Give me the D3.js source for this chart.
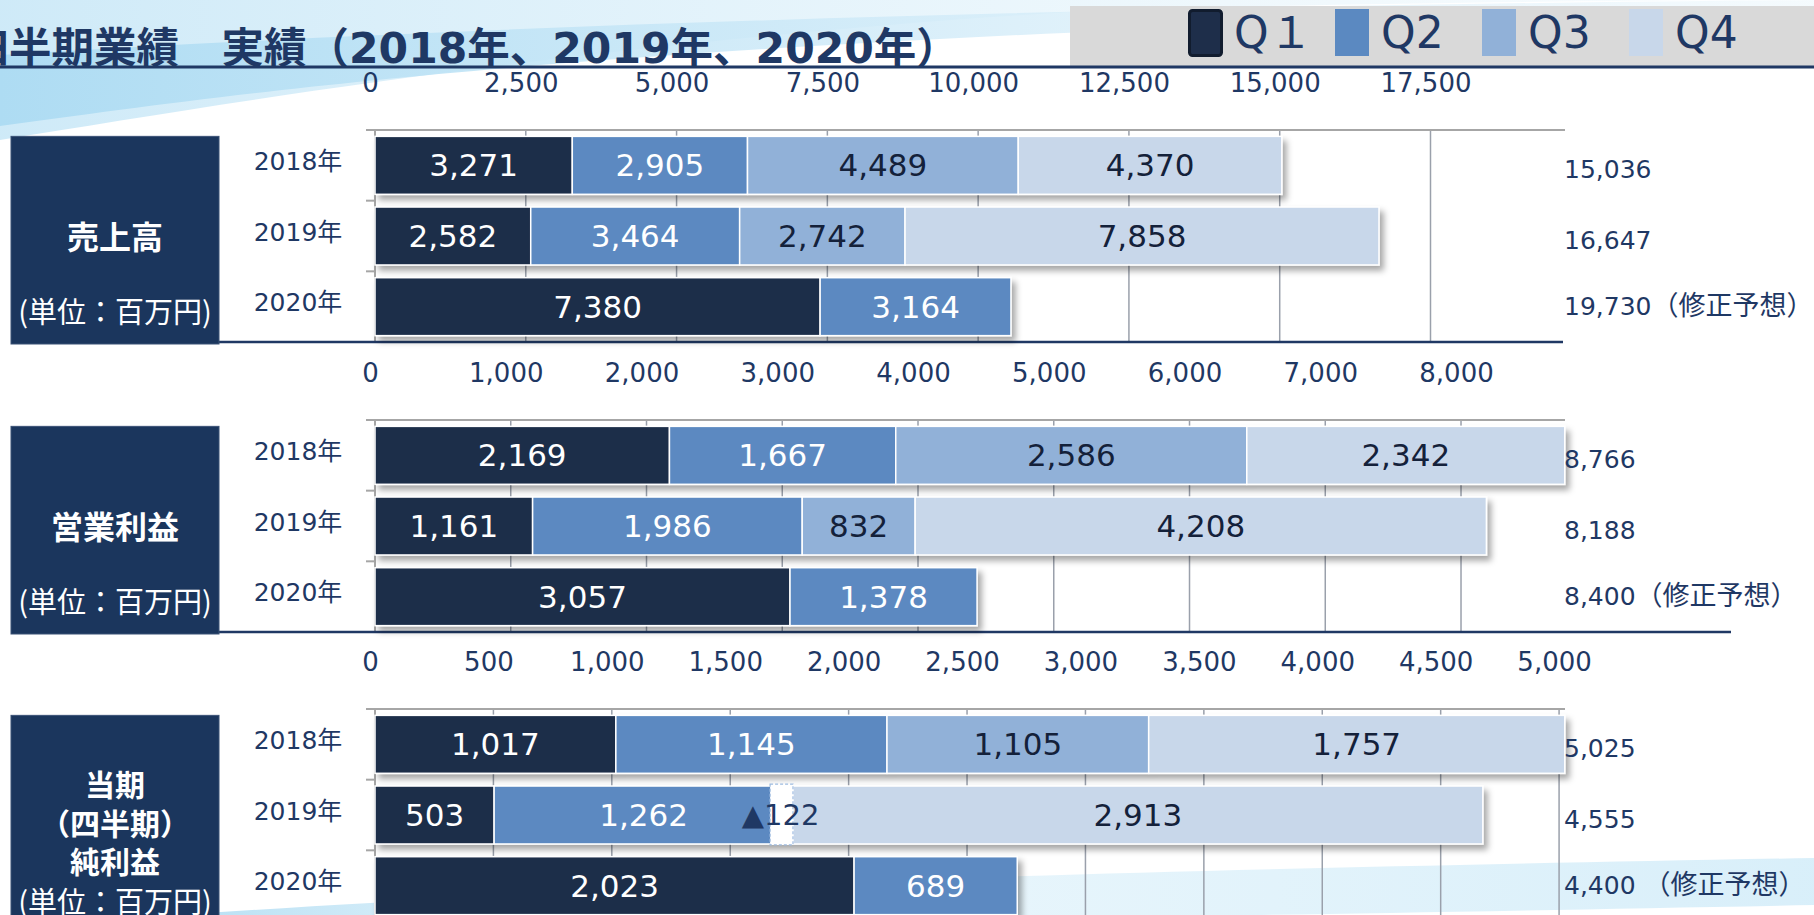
<!DOCTYPE html>
<html>
<head>
<meta charset="utf-8">
<script src="https://cdn.jsdelivr.net/npm/d3@7/dist/d3.min.js"></script>
<style>
body { margin: 0; background: #fff; overflow: hidden; }
svg { display: block; font-family: "DejaVu Sans", "Noto Sans CJK JP", sans-serif; }
</style>
</head>
<body>
<div id="chart"></div>
<script>
var width = 1814;
var height = 915;

// categories
var years = ["2018年", "2019年", "2020年"];
var quarters = ["Q１", "Q2", "Q3", "Q4"];

// 売上高
var salesQ1 = [3271, 2582, 7380];
var salesQ2 = [2905, 3464, 3164];
var salesQ3 = [4489, 2742, null];
var salesQ4 = [4370, 7858, null];
var salesTotal = [15036, 16647, 19730];
var salesTicks = [0, 2500, 5000, 7500, 10000, 12500, 15000, 17500];

// 営業利益
var opQ1 = [2169, 1161, 3057];
var opQ2 = [1667, 1986, 1378];
var opQ3 = [2586, 832, null];
var opQ4 = [2342, 4208, null];
var opTotal = [8766, 8188, 8400];
var opTicks = [0, 1000, 2000, 3000, 4000, 5000, 6000, 7000, 8000];

// 当期純利益
var netQ1 = [1017, 503, 2023];
var netQ2 = [1145, 1262, 689];
var netQ3 = [1105, -122, null];
var netQ4 = [1757, 2913, null];
var netTotal = [5025, 4555, 4400];
var netTicks = [0, 500, 1000, 1500, 2000, 2500, 3000, 3500, 4000, 4500, 5000];

var totalNotes = ["", "", "（修正予想）"];

var qColors = ["#1e2e4a", "#5b89c1", "#91b1d8", "#c8d7ea"];
var navy = "#1f3864";
var fmt = d3.format(",");

var svg = d3.select("#chart")
    .append("svg")
    .attr("width", width)
    .attr("height", height);

var defs = svg.append("defs");

var shadow = defs.append("filter")
    .attr("id", "shadow")
    .attr("x", "-5%").attr("y", "-20%")
    .attr("width", "110%").attr("height", "150%");
shadow.append("feDropShadow")
    .attr("dx", 4).attr("dy", 5)
    .attr("stdDeviation", 3)
    .attr("flood-color", "#000")
    .attr("flood-opacity", 0.35);

var g1 = defs.append("linearGradient").attr("id", "swoosh1")
    .attr("x1", "0").attr("y1", "0").attr("x2", "1").attr("y2", "0");
g1.append("stop").attr("offset", "0").attr("stop-color", "#aedcf3").attr("stop-opacity", 1);
g1.append("stop").attr("offset", "0.5").attr("stop-color", "#cfeaf8").attr("stop-opacity", 0.8);
g1.append("stop").attr("offset", "1").attr("stop-color", "#eaf6fc").attr("stop-opacity", 0.5);

var g2 = defs.append("linearGradient").attr("id", "swoosh2")
    .attr("x1", "0").attr("y1", "0").attr("x2", "1").attr("y2", "0");
g2.append("stop").attr("offset", "0").attr("stop-color", "#9fd5f0").attr("stop-opacity", 1);
g2.append("stop").attr("offset", "0.3").attr("stop-color", "#d3edf9").attr("stop-opacity", 0.6);
g2.append("stop").attr("offset", "1").attr("stop-color", "#c6e7f7").attr("stop-opacity", 0.9);

// background swooshes
svg.append("path")
   .attr("d", "M0,0 L0,140 C250,100 600,40 1100,10 C1400,2 1700,0 1814,0 Z")
   .attr("fill", "url(#swoosh1)")
   .attr("opacity", 0.6);
svg.append("path")
   .attr("d", "M0,55 L0,126 C300,85 650,35 1814,8 L1814,0 C1300,4 600,18 0,55 Z")
   .attr("fill", "url(#swoosh1)");
svg.append("path")
   .attr("d", "M180,915 C500,892 1000,872 1814,858 L1814,905 C1600,909 1400,913 1250,915 Z")
   .attr("fill", "url(#swoosh2)")
   .attr("opacity", 0.75);

// title
svg.append("text")
   .attr("x", -33.5)
   .attr("y", 63)
   .attr("font-weight", 700)
   .attr("font-size", 42.5)
   .attr("fill", navy)
   .text("四半期業績　実績（2018年、2019年、2020年）");

// legend
svg.append("rect")
   .attr("x", 1070).attr("y", 6)
   .attr("width", width - 1070).attr("height", 61)
   .attr("fill", "#d9d9d9");

svg.append("line")
   .attr("x1", 0).attr("x2", width)
   .attr("y1", 67).attr("y2", 67)
   .attr("stroke", navy)
   .attr("stroke-width", 3);

var legendX = d3.scalePoint().domain(quarters).range([1188, 1629]);

var legend = svg.selectAll(".legend")
    .data(quarters)
    .enter()
    .append("g")
    .attr("class", "legend")
    .attr("transform", function(d){ return "translate(" + legendX(d) + ",0)"; });

legend.append("rect")
    .attr("x", function(d, i){ return i === 0 ? 1.5 : 0; })
    .attr("y", function(d, i){ return i === 0 ? 10.5 : 9; })
    .attr("width", function(d, i){ return i === 0 ? 32 : 34; })
    .attr("height", function(d, i){ return i === 0 ? 45 : 47; })
    .attr("rx", function(d, i){ return i === 0 ? 3 : 0; })
    .attr("fill", function(d, i){ return qColors[i]; })
    .attr("stroke", function(d, i){ return i === 0 ? "#111c2e" : "none"; })
    .attr("stroke-width", 3);

legend.append("text")
    .attr("x", 46)
    .attr("y", 33)
    .attr("dy", "0.35em")
    .attr("font-size", 44)
    .attr("fill", navy)
    .text(function(d){ return d; });

function drawPanel(cfg){
    var series = cfg.series;
    var top = cfg.top, bottom = cfg.top + 212;

    var xScale = d3.scaleLinear()
        .domain([0, d3.max(cfg.totals)])
        .range([375, 1565]);

    var yScale = d3.scaleBand()
        .domain(years)
        .range([top, bottom])
        .paddingInner(0.18)
        .paddingOuter(0.09);

    var g = svg.append("g");

    // tick labels above the plot
    var xAxis = d3.axisTop()
        .scale(xScale)
        .tickValues(cfg.ticks)
        .tickSize(0)
        .tickPadding(0)
        .tickFormat(fmt);

    var ax = g.append("g")
        .attr("transform", "translate(-5," + (top - 47) + ")")
        .call(xAxis);
    ax.select(".domain").remove();
    ax.selectAll("text")
        .attr("dy", "0.35em")
        .attr("font-size", 26)
        .attr("font-family", "'DejaVu Sans', sans-serif")
        .attr("fill", navy);

    // gridlines
    g.selectAll(".grid")
        .data(cfg.ticks.filter(function(d){ return d > 0; }))
        .enter()
        .append("line")
        .attr("x1", function(d){ return xScale(d); })
        .attr("x2", function(d){ return xScale(d); })
        .attr("y1", top)
        .attr("y2", bottom)
        .attr("stroke", "#9aa0ab")
        .attr("stroke-width", 1.5);

    // frame: top line, category axis, ticks
    g.append("line")
        .attr("x1", 366).attr("x2", xScale.range()[1])
        .attr("y1", top).attr("y2", top)
        .attr("stroke", "#a6a6a6").attr("stroke-width", 2);
    g.append("line")
        .attr("x1", xScale(0)).attr("x2", xScale(0))
        .attr("y1", top).attr("y2", bottom)
        .attr("stroke", "#a6a6a6").attr("stroke-width", 2);
    g.selectAll(".ytick")
        .data(d3.range(years.length + 1))
        .enter()
        .append("line")
        .attr("x1", 366).attr("x2", xScale(0))
        .attr("y1", function(i){ return top + i * yScale.step(); })
        .attr("y2", function(i){ return top + i * yScale.step(); })
        .attr("stroke", "#a6a6a6").attr("stroke-width", 2);

    // bottom rule
    g.append("line")
        .attr("x1", 11).attr("x2", cfg.ruleEnd)
        .attr("y1", bottom).attr("y2", bottom)
        .attr("stroke", navy).attr("stroke-width", 2.5);

    // name box
    var boxTop = yScale(years[0]);
    g.append("rect")
        .attr("x", 11).attr("y", boxTop)
        .attr("width", 208).attr("height", bottom - boxTop + 2)
        .attr("fill", "#1b365d")
        .attr("stroke", "#3a5276").attr("stroke-width", 1);

    cfg.names.forEach(function(t, i){
        g.append("text")
            .attr("x", 115)
            .attr("y", boxTop + cfg.nameY[i])
            .attr("dy", "0.35em")
            .attr("text-anchor", "middle")
            .attr("font-family", "'Noto Sans CJK JP', sans-serif")
            .attr("font-weight", 700)
            .attr("font-size", cfg.nameSize)
            .attr("fill", "#fff")
            .text(t);
    });
    g.append("text")
        .attr("x", 115)
        .attr("y", boxTop + cfg.unitY)
        .attr("dy", "0.35em")
        .attr("text-anchor", "middle")
        .attr("font-family", "'Noto Sans CJK JP', sans-serif")
        .attr("font-size", 29)
        .attr("fill", "#fff")
        .text("(単位：百万円)");

    // year labels
    g.selectAll(".year")
        .data(years)
        .enter()
        .append("text")
        .attr("x", 298)
        .attr("y", function(d){ return yScale(d) + yScale.bandwidth() / 2 - 4; })
        .attr("dy", "0.35em")
        .attr("text-anchor", "middle")
        .attr("font-size", 25)
        .attr("fill", navy)
        .text(function(d){ return d; });

    // stacked bars
    years.forEach(function(yr, i){
        var cum = 0, segs = [];
        series.forEach(function(s, q){
            var v = s[i];
            if (v === null) return;
            if (v >= 0) {
                segs.push({q: q, x0: cum, x1: cum + v, v: v, neg: false});
                cum += v;
            } else {
                segs.push({q: q, x0: cum + v, x1: cum, v: v, neg: true});
            }
        });

        var y0 = yScale(yr), bh = yScale.bandwidth();
        var row = g.append("g").attr("filter", "url(#shadow)");

        row.selectAll("rect")
            .data(segs.filter(function(d){ return !d.neg; }))
            .enter()
            .append("rect")
            .attr("x", function(d){ return xScale(d.x0); })
            .attr("y", y0)
            .attr("width", function(d){ return xScale(d.x1) - xScale(d.x0); })
            .attr("height", bh)
            .attr("fill", function(d){ return qColors[d.q]; })
            .attr("stroke", "#fff")
            .attr("stroke-width", 1.5);

        var negs = segs.filter(function(d){ return d.neg; });
        g.selectAll(null)
            .data(negs)
            .enter()
            .append("rect")
            .attr("x", function(d){ return xScale(d.x0) + 6; })
            .attr("y", y0 - 2)
            .attr("width", function(d){ return xScale(d.x1) - xScale(d.x0) - 6; })
            .attr("height", bh + 3)
            .attr("fill", "#fff")
            .attr("stroke", "#9dbbe0")
            .attr("stroke-width", 1.2)
            .attr("stroke-dasharray", "3,2");

        g.selectAll(null)
            .data(segs)
            .enter()
            .append("text")
            .attr("x", function(d){ return xScale((d.x0 + d.x1) / 2) + (d.neg ? 2 : 0); })
            .attr("y", y0 + bh / 2)
            .attr("dy", "0.36em")
            .attr("text-anchor", "middle")
            .attr("font-size", function(d){ return d.neg ? 29 : 31; })
            .attr("fill", function(d){
                if (d.neg) return navy;
                return d.q < 2 ? "#fff" : "#14213a";
            })
            .text(function(d){ return d.neg ? "▲" + fmt(-d.v) : fmt(d.v); });

        // totals on the right
        var tot = g.append("text")
            .attr("x", 1564)
            .attr("y", y0 + bh / 2 + (cfg.notes[i] ? 0 : 4))
            .attr("dy", "0.35em")
            .attr("font-size", 25)
            .attr("fill", navy);
        tot.append("tspan").text(fmt(cfg.totals[i]) + (cfg.notes[i] ? cfg.gap : ""));
        if (cfg.notes[i]) {
            tot.append("tspan")
               .attr("font-size", 27)
               .text(cfg.notes[i]);
        }
    });
}

drawPanel({
    series: [salesQ1, salesQ2, salesQ3, salesQ4],
    totals: salesTotal, notes: totalNotes, gap: "",
    ticks: salesTicks, top: 130, ruleEnd: 1563,
    names: ["売上高"], nameY: [101], nameSize: 32, unitY: 176
});

drawPanel({
    series: [opQ1, opQ2, opQ3, opQ4],
    totals: opTotal, notes: totalNotes, gap: "",
    ticks: opTicks, top: 420, ruleEnd: 1731,
    names: ["営業利益"], nameY: [101], nameSize: 32, unitY: 176
});

drawPanel({
    series: [netQ1, netQ2, netQ3, netQ4],
    totals: netTotal, notes: totalNotes, gap: " ",
    ticks: netTicks, top: 709, ruleEnd: 1731,
    names: ["当期", "（四半期）", "純利益"], nameY: [70, 109, 147], nameSize: 30, unitY: 187
});
</script>
</body>
</html>
